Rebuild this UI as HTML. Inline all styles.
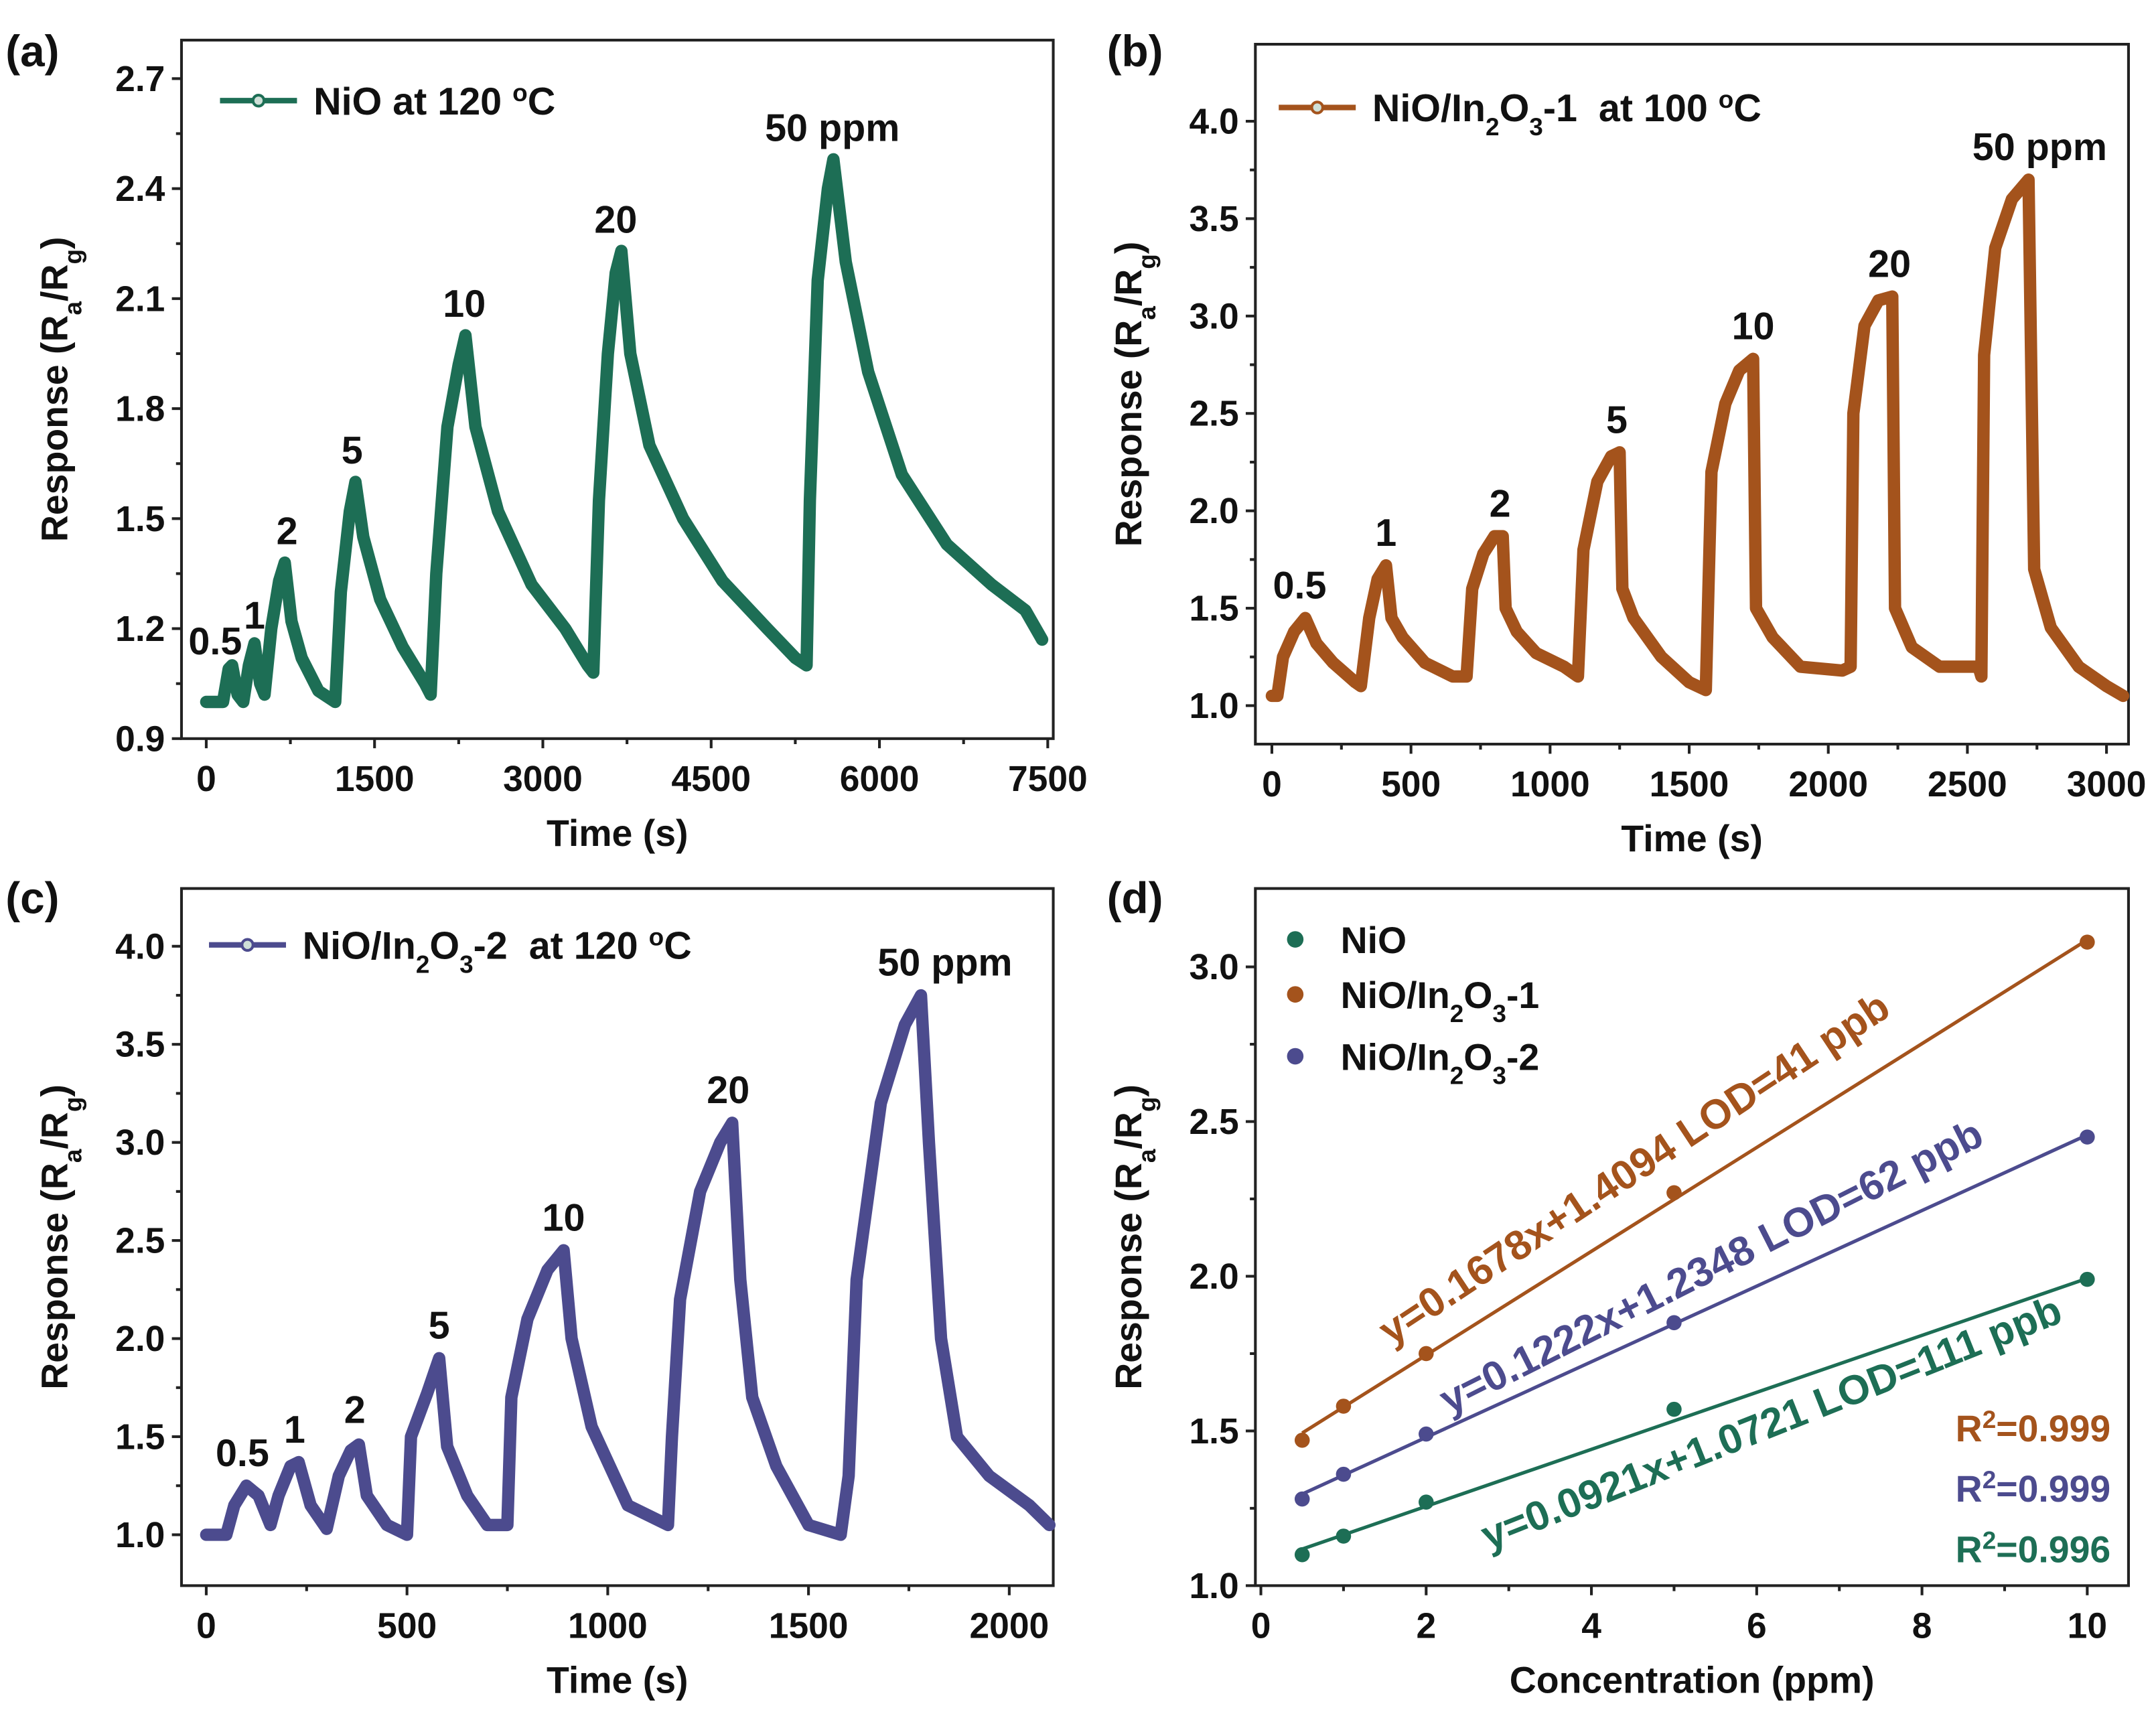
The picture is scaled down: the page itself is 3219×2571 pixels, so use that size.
<!DOCTYPE html>
<html><head><meta charset="utf-8"><style>
html,body{margin:0;padding:0;background:#fff}
svg{display:block}
text{font-family:"Liberation Sans",Arial,sans-serif;font-weight:bold;fill:#111}
</style></head><body>
<svg id="fig" xmlns="http://www.w3.org/2000/svg" width="3219" height="2571" viewBox="0 0 1568 1252"></svg>
<script>
// ---- data ----
const aTimes=[0,150,200,230,280,330,380,430,480,520,580,650,700,760,850,1000,1150,1200,1280,1330,1400,1550,1750,1950,2000,2050,2150,2250,2310,2400,2600,2900,3200,3400,3450,3500,3580,3650,3700,3780,3950,4250,4600,5000,5250,5350,5380,5450,5540,5590,5700,5900,6200,6600,7000,7300,7450];
const aValues=[1.0,1.0,1.09,1.10,1.02,1.0,1.10,1.16,1.05,1.02,1.2,1.33,1.38,1.22,1.12,1.03,1.0,1.3,1.52,1.60,1.45,1.28,1.15,1.05,1.02,1.35,1.75,1.92,2.0,1.75,1.52,1.32,1.2,1.10,1.08,1.55,1.95,2.17,2.23,1.95,1.7,1.5,1.33,1.2,1.12,1.10,1.55,2.15,2.40,2.48,2.2,1.9,1.62,1.43,1.32,1.25,1.17];
const bTimes=[0,20,40,80,120,160,220,300,320,350,380,410,430,470,550,650,700,720,760,800,830,840,880,950,1050,1100,1120,1170,1220,1250,1260,1300,1400,1500,1560,1580,1630,1680,1730,1740,1800,1900,2050,2080,2090,2130,2180,2230,2240,2300,2400,2540,2550,2560,2600,2660,2720,2740,2800,2900,3000,3060];
const bValues=[1.05,1.05,1.25,1.38,1.45,1.32,1.22,1.12,1.1,1.45,1.65,1.72,1.45,1.35,1.22,1.15,1.15,1.6,1.78,1.87,1.87,1.5,1.38,1.27,1.2,1.15,1.8,2.15,2.28,2.3,1.6,1.45,1.25,1.12,1.08,2.2,2.55,2.72,2.78,1.5,1.35,1.2,1.18,1.2,2.5,2.95,3.08,3.10,1.5,1.3,1.2,1.2,1.15,2.8,3.35,3.6,3.7,1.7,1.4,1.2,1.1,1.05];
const cTimes=[0,50,70,100,130,160,180,210,230,260,300,330,360,380,400,450,500,510,550,580,600,650,700,750,760,800,850,890,910,960,1050,1150,1160,1180,1230,1280,1310,1330,1360,1420,1500,1580,1600,1620,1680,1740,1780,1800,1830,1870,1950,2050,2100];
const cValues=[1.0,1.0,1.15,1.25,1.2,1.05,1.2,1.35,1.37,1.15,1.03,1.3,1.43,1.46,1.2,1.05,1.0,1.5,1.72,1.9,1.45,1.2,1.05,1.05,1.7,2.1,2.35,2.45,2.0,1.55,1.15,1.05,1.5,2.2,2.75,3.0,3.1,2.3,1.7,1.35,1.05,1.0,1.3,2.3,3.2,3.6,3.75,3.0,2.0,1.5,1.3,1.15,1.05];
const dConc=[0.5,1,2,5,10];
const dNiO=[1.10,1.16,1.27,1.57,1.99];
const dIn1=[1.47,1.58,1.75,2.27,3.08];
const dIn2=[1.28,1.36,1.49,1.85,2.45];
const dSlopes=[0.0921,0.1678,0.1222];
const dIntercepts=[1.0721,1.4094,1.2348];
const aXTicks=[0,1500,3000,4500,6000,7500];
const aYTicks=[0.9,1.2,1.5,1.8,2.1,2.4,2.7];
const bXTicks=[0,500,1000,1500,2000,2500,3000];
const bYTicks=[1.0,1.5,2.0,2.5,3.0,3.5,4.0];
const cXTicks=[0,500,1000,1500,2000];
const cYTicks=[1.0,1.5,2.0,2.5,3.0,3.5,4.0];
const dXTicks=[0,2,4,6,8,10];
const dYTicks=[1.0,1.5,2.0,2.5,3.0];
const aLabels=[["0.5",80,1.13],["1",430,1.2],["2",720,1.43],["5",1300,1.65],["10",2300,2.05],["20",3650,2.28],["50 ppm",5580,2.53]];
const bLabels=[["0.5",100,1.55],["1",410,1.82],["2",820,1.97],["5",1240,2.4],["10",1730,2.88],["20",2220,3.2],["50 ppm",2760,3.8]];
const cLabels=[["0.5",90,1.35],["1",220,1.47],["2",370,1.57],["5",580,2.0],["10",890,2.55],["20",1300,3.2],["50 ppm",1840,3.85]];

const G='#1d6e55', B='#a4531c', P='#4c4b8e';
const NS='http://www.w3.org/2000/svg';
const svg=document.getElementById('fig');
function el(tag,attrs,parent,txt){const e=document.createElementNS(NS,tag);for(const k in attrs)e.setAttribute(k,attrs[k]);if(txt!==undefined)e.textContent=txt;(parent||svg).appendChild(e);return e;}
function lin(d0,d1,p0,p1){return v=>p0+(v-d0)*(p1-p0)/(d1-d0);}

function panel(cfg){
  const g=el('g',{});
  
  
  const {x0,x1,y0,y1}=cfg.frame;
  const fr=el('rect',{x:x0,y:y0,width:x1-x0,height:y1-y0,fill:'none',stroke:'#222','stroke-width':2},g);
  
  cfg.xTicks.forEach((t,i)=>{const x=cfg.sx(t);
    el('line',{x1:x,x2:x,y1:y1,y2:y1+7,stroke:'#222','stroke-width':2},g);
    if(i<cfg.xTicks.length-1){const xm=cfg.sx((t+cfg.xTicks[i+1])/2);el('line',{x1:xm,x2:xm,y1:y1,y2:y1+4,stroke:'#222','stroke-width':2},g);}
    const tx=el('text',{x:x,y:y1+38,'text-anchor':'middle','font-size':26},g,String(t));
    });
  cfg.yTicks.forEach((t,i)=>{const y=cfg.sy(t);
    el('line',{x1:x0-7,x2:x0,y1:y,y2:y,stroke:'#222','stroke-width':2},g);
    if(i<cfg.yTicks.length-1){const ym=cfg.sy((t+cfg.yTicks[i+1])/2);el('line',{x1:x0-4,x2:x0,y1:ym,y2:ym,stroke:'#222','stroke-width':2},g);}
    const tx=el('text',{x:x0-12,y:y+9,'text-anchor':'end','font-size':26},g,t.toFixed(1));
    });
  const xt=el('text',{x:(x0+x1)/2,y:y1+78,'text-anchor':'middle','font-size':27},g,cfg.xTitle);
  
  const yt=el('text',{transform:`translate(${x0-83},${(y0+y1)/2}) rotate(-90)`,'text-anchor':'middle','font-size':27},g);
  
  yt.innerHTML='Response (R<tspan baseline-shift="sub" font-size="18">a</tspan>/R<tspan baseline-shift="sub" font-size="18">g</tspan>)';
  const pl=el('text',{x:cfg.lx,y:cfg.ly,'font-size':32,'font-weight':'normal'},g,cfg.letter);
  
  return g;
}

function series(g,cfg,ts,vs,color,leg,labels){
  const pts=ts.map((t,i)=>cfg.sx(t).toFixed(1)+','+cfg.sy(vs[i]).toFixed(1)).join(' ');
  const p=el('polyline',{points:pts,fill:'none',stroke:color,'stroke-width':9,'stroke-linejoin':'round','stroke-linecap':'round'},g);
  
  const lg=el('g',{},g);
  
  el('line',{x1:leg[0],x2:leg[0]+56,y1:leg[1],y2:leg[1],stroke:color,'stroke-width':4},lg);
  el('circle',{cx:leg[0]+28,cy:leg[1],r:4,fill:'#cfe0d8',stroke:color,'stroke-width':2},lg);
  const lt=el('text',{x:leg[0]+68,y:leg[1]+10,'font-size':28},lg);lt.innerHTML=leg[2];
  labels.forEach(l=>{const t=el('text',{x:cfg.sx(l[1]),y:cfg.sy(l[2]),'text-anchor':'middle','font-size':28},g,l[0]);
    });
}
const sub3='<tspan baseline-shift="super" font-size="18">2</tspan>';
function inLbl(n){return 'NiO/In<tspan baseline-shift="sub" font-size="18">2</tspan>O<tspan baseline-shift="sub" font-size="18">3</tspan>-'+n;}

// panel a
const A={name:'panel-a',frame:{x0:132,x1:766,y0:29,y1:537},sx:lin(0,7500,150,762),sy:lin(0.9,2.7,537,57),xTicks:aXTicks,yTicks:aYTicks,xTitle:'Time (s)',letter:'(a)',lx:4,ly:48};
const ga=panel(A);series(ga,A,aTimes,aValues,G,[160,73,'NiO at 120 <tspan baseline-shift="super" font-size="18">o</tspan>C'],aLabels);
// panel b
const Bc={name:'panel-b',frame:{x0:913,x1:1548,y0:32,y1:541},sx:lin(0,3000,925,1532),sy:lin(1.0,4.0,513,88),xTicks:bXTicks,yTicks:bYTicks,xTitle:'Time (s)',letter:'(b)',lx:805,ly:48};
const gb=panel(Bc);series(gb,Bc,bTimes,bValues,B,[930,78,inLbl(1)+'&#160; at 100 <tspan baseline-shift="super" font-size="18">o</tspan>C'],bLabels);
// panel c
const C={name:'panel-c',frame:{x0:132,x1:766,y0:646,y1:1153},sx:lin(0,2000,150,734),sy:lin(1.0,4.0,1116,688),xTicks:cXTicks,yTicks:cYTicks,xTitle:'Time (s)',letter:'(c)',lx:4,ly:664};
const gc=panel(C);series(gc,C,cTimes,cValues,P,[152,687,inLbl(2)+'&#160; at 120 <tspan baseline-shift="super" font-size="18">o</tspan>C'],cLabels);
// panel d
const D={name:'panel-d',frame:{x0:913,x1:1548,y0:646,y1:1153},sx:lin(0,10,917,1518),sy:lin(1.0,3.0,1153,703),xTicks:dXTicks,yTicks:dYTicks,xTitle:'Concentration (ppm)',letter:'(d)',lx:805,ly:664};
const gd=panel(D);
const dSets=[[dNiO,G],[dIn1,B],[dIn2,P]];
dSets.forEach((s,k)=>{
  const ln=el('line',{x1:D.sx(dConc[0]),y1:D.sy(dSlopes[k]*dConc[0]+dIntercepts[k]),x2:D.sx(dConc[4]),y2:D.sy(dSlopes[k]*dConc[4]+dIntercepts[k]),stroke:s[1],'stroke-width':2.5},gd);
  
  dConc.forEach((c,i)=>{const p=el('circle',{cx:D.sx(c),cy:D.sy(s[0][i]),r:5.5,fill:s[1]},gd);
    });
});
const legD=[['NiO',G,683],[inLbl(1),B,723],[inLbl(2),P,768]];
legD.forEach(l=>{const g=el('g',{},gd);
  el('circle',{cx:942,cy:l[2],r:6,fill:l[1]},g);const t=el('text',{x:975,y:l[2]+10,'font-size':27},g);t.innerHTML=l[0];});
const eqs=[['y=0.0921x+1.0721 LOD=111 ppb',G,1292,1044,-21.7],['y=0.1678x+1.4094 LOD=41 ppb',B,1194,858,-33.5],['y=0.1222x+1.2348 LOD=62 ppb',P,1249,930,-26.8]];
eqs.forEach(e=>{const t=el('text',{transform:`translate(${e[2]},${e[3]}) rotate(${e[4]})`,'text-anchor':'middle','font-size':30,style:'fill:'+e[1]},gd,e[0]);
  });
[['R'+sub3+'=0.999',B,1048],['R'+sub3+'=0.999',P,1092],['R'+sub3+'=0.996',G,1136]].forEach(r=>{
  const t=el('text',{x:1535,y:r[2],'text-anchor':'end','font-size':27,style:'fill:'+r[1]},gd);t.innerHTML=r[0];
  });
</script>
</body></html>
